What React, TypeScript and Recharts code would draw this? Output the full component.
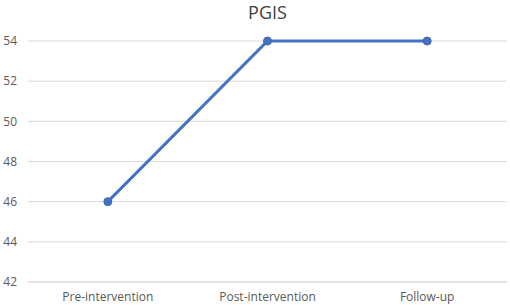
import { LineChart, Line, XAxis, YAxis, CartesianGrid } from 'recharts';

const categories = ['Pre-intervention', 'Post-intervention', 'Follow-up'];
const pgisValues = [46, 54, 54];
const yTicks = [42, 44, 46, 48, 50, 52, 54];

const data = categories.map((name, i) => ({ name, pgis: pgisValues[i] }));

const font = "'Open Sans', 'Noto Sans', sans-serif";

export default function App() {
  return (
    <div style={{ position: 'absolute', left: 0, top: 0, width: 510, height: 308, background: '#fff', fontFamily: font }}>
      <div
        style={{
          position: 'absolute',
          left: 28,
          width: 479,
          top: 0,
          textAlign: 'center',
          fontSize: 18,
          color: '#404040',
          lineHeight: '24px',
        }}
      >
        PGIS
      </div>
      <LineChart width={510} height={308} data={data} margin={{ top: 41, right: 3, bottom: 0, left: 0 }}>
        <CartesianGrid horizontal vertical={false} stroke="#d9d9d9" strokeWidth={1} />
        <XAxis
          dataKey="name"
          scale="band"
          height={26}
          tickLine={false}
          axisLine={{ stroke: '#d9d9d9' }}
          tickSize={0}
          tickMargin={10}
          tick={{ fontSize: 12, fill: '#595959', fontFamily: font }}
        />
        <YAxis
          domain={[42, 54]}
          ticks={yTicks}
          width={28}
          tickLine={false}
          axisLine={false}
          tickSize={0}
          tickMargin={11}
          tick={{ fontSize: 12, fill: '#595959', fontFamily: font }}
        />
        <Line
          type="linear"
          dataKey="pgis"
          stroke="#4472c4"
          strokeWidth={3}
          dot={{ r: 4, fill: '#4472c4', stroke: '#3f68b0', strokeWidth: 1 }}
          isAnimationActive={false}
        />
      </LineChart>
    </div>
  );
}
